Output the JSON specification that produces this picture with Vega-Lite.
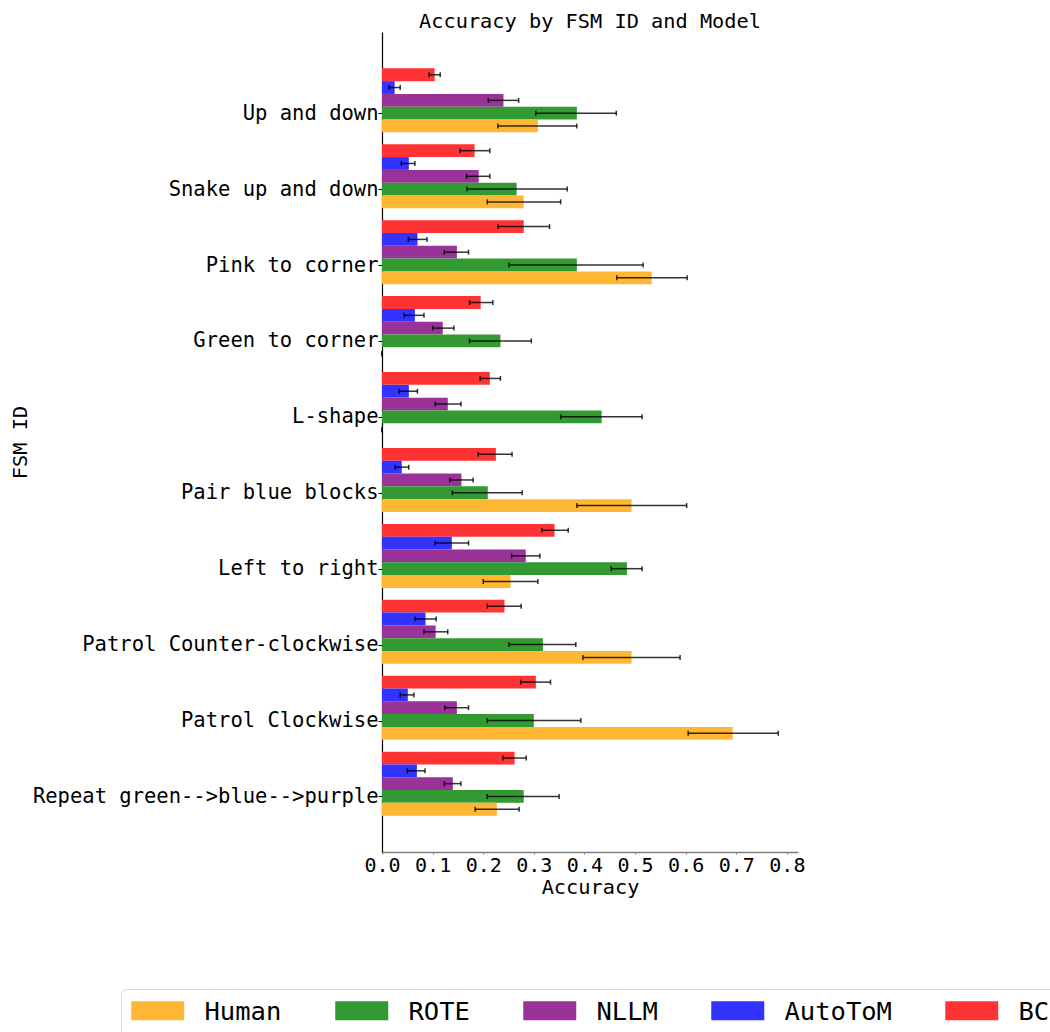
{
  "$schema": "https://vega.github.io/schema/vega-lite/v6.json",
  "autosize": {"type": "none"},
  "padding": {"left": 382, "top": 32, "right": 252, "bottom": 180},
  "width": 416,
  "height": 820,
  "title": {
    "text": "Accuracy by FSM ID and Model",
    "fontSize": 20.3,
    "fontWeight": "normal",
    "color": "#000000",
    "anchor": "middle",
    "offset": 0
  },
  "config": {
    "font": "DejaVu Sans Mono",
    "view": {"stroke": null},
    "axis": {"grid": false, "labelColor": "#000000", "titleColor": "#000000", "titleFontWeight": "normal"}
  },
  "data": {
    "values": [
      {"fsm": "Up and down", "model": "BC", "acc": 0.104, "lo": 0.093, "hi": 0.115},
      {"fsm": "Up and down", "model": "AutoToM", "acc": 0.025, "lo": 0.014, "hi": 0.036},
      {"fsm": "Up and down", "model": "NLLM", "acc": 0.240, "lo": 0.210, "hi": 0.270},
      {"fsm": "Up and down", "model": "ROTE", "acc": 0.385, "lo": 0.304, "hi": 0.463},
      {"fsm": "Up and down", "model": "Human", "acc": 0.308, "lo": 0.229, "hi": 0.385},

      {"fsm": "Snake up and down", "model": "BC", "acc": 0.183, "lo": 0.154, "hi": 0.213},
      {"fsm": "Snake up and down", "model": "AutoToM", "acc": 0.053, "lo": 0.038, "hi": 0.065},
      {"fsm": "Snake up and down", "model": "NLLM", "acc": 0.191, "lo": 0.167, "hi": 0.213},
      {"fsm": "Snake up and down", "model": "ROTE", "acc": 0.266, "lo": 0.168, "hi": 0.366},
      {"fsm": "Snake up and down", "model": "Human", "acc": 0.280, "lo": 0.208, "hi": 0.353},

      {"fsm": "Pink to corner", "model": "BC", "acc": 0.280, "lo": 0.229, "hi": 0.331},
      {"fsm": "Pink to corner", "model": "AutoToM", "acc": 0.070, "lo": 0.052, "hi": 0.089},
      {"fsm": "Pink to corner", "model": "NLLM", "acc": 0.148, "lo": 0.123, "hi": 0.171},
      {"fsm": "Pink to corner", "model": "ROTE", "acc": 0.385, "lo": 0.251, "hi": 0.516},
      {"fsm": "Pink to corner", "model": "Human", "acc": 0.533, "lo": 0.464, "hi": 0.603},

      {"fsm": "Green to corner", "model": "BC", "acc": 0.195, "lo": 0.173, "hi": 0.219},
      {"fsm": "Green to corner", "model": "AutoToM", "acc": 0.065, "lo": 0.044, "hi": 0.083},
      {"fsm": "Green to corner", "model": "NLLM", "acc": 0.120, "lo": 0.100, "hi": 0.142},
      {"fsm": "Green to corner", "model": "ROTE", "acc": 0.234, "lo": 0.173, "hi": 0.295},
      {"fsm": "Green to corner", "model": "Human", "acc": 0.0, "lo": 0.0, "hi": 0.0},

      {"fsm": "L-shape", "model": "BC", "acc": 0.213, "lo": 0.194, "hi": 0.234},
      {"fsm": "L-shape", "model": "AutoToM", "acc": 0.053, "lo": 0.034, "hi": 0.070},
      {"fsm": "L-shape", "model": "NLLM", "acc": 0.130, "lo": 0.105, "hi": 0.156},
      {"fsm": "L-shape", "model": "ROTE", "acc": 0.434, "lo": 0.353, "hi": 0.514},
      {"fsm": "L-shape", "model": "Human", "acc": 0.0, "lo": 0.0, "hi": 0.0},

      {"fsm": "Pair blue blocks", "model": "BC", "acc": 0.225, "lo": 0.190, "hi": 0.257},
      {"fsm": "Pair blue blocks", "model": "AutoToM", "acc": 0.039, "lo": 0.026, "hi": 0.053},
      {"fsm": "Pair blue blocks", "model": "NLLM", "acc": 0.157, "lo": 0.134, "hi": 0.180},
      {"fsm": "Pair blue blocks", "model": "ROTE", "acc": 0.209, "lo": 0.139, "hi": 0.277},
      {"fsm": "Pair blue blocks", "model": "Human", "acc": 0.493, "lo": 0.385, "hi": 0.602},

      {"fsm": "Left to right", "model": "BC", "acc": 0.341, "lo": 0.316, "hi": 0.368},
      {"fsm": "Left to right", "model": "AutoToM", "acc": 0.138, "lo": 0.105, "hi": 0.171},
      {"fsm": "Left to right", "model": "NLLM", "acc": 0.284, "lo": 0.256, "hi": 0.312},
      {"fsm": "Left to right", "model": "ROTE", "acc": 0.484, "lo": 0.453, "hi": 0.514},
      {"fsm": "Left to right", "model": "Human", "acc": 0.254, "lo": 0.200, "hi": 0.308},

      {"fsm": "Patrol Counter-clockwise", "model": "BC", "acc": 0.242, "lo": 0.208, "hi": 0.275},
      {"fsm": "Patrol Counter-clockwise", "model": "AutoToM", "acc": 0.086, "lo": 0.065, "hi": 0.107},
      {"fsm": "Patrol Counter-clockwise", "model": "NLLM", "acc": 0.106, "lo": 0.083, "hi": 0.130},
      {"fsm": "Patrol Counter-clockwise", "model": "ROTE", "acc": 0.318, "lo": 0.251, "hi": 0.383},
      {"fsm": "Patrol Counter-clockwise", "model": "Human", "acc": 0.493, "lo": 0.397, "hi": 0.589},

      {"fsm": "Patrol Clockwise", "model": "BC", "acc": 0.304, "lo": 0.274, "hi": 0.333},
      {"fsm": "Patrol Clockwise", "model": "AutoToM", "acc": 0.051, "lo": 0.036, "hi": 0.063},
      {"fsm": "Patrol Clockwise", "model": "NLLM", "acc": 0.148, "lo": 0.124, "hi": 0.171},
      {"fsm": "Patrol Clockwise", "model": "ROTE", "acc": 0.300, "lo": 0.208, "hi": 0.393},
      {"fsm": "Patrol Clockwise", "model": "Human", "acc": 0.693, "lo": 0.605, "hi": 0.783},

      {"fsm": "Repeat green-->blue-->purple", "model": "BC", "acc": 0.262, "lo": 0.239, "hi": 0.285},
      {"fsm": "Repeat green-->blue-->purple", "model": "AutoToM", "acc": 0.069, "lo": 0.050, "hi": 0.085},
      {"fsm": "Repeat green-->blue-->purple", "model": "NLLM", "acc": 0.140, "lo": 0.123, "hi": 0.156},
      {"fsm": "Repeat green-->blue-->purple", "model": "ROTE", "acc": 0.280, "lo": 0.208, "hi": 0.350},
      {"fsm": "Repeat green-->blue-->purple", "model": "Human", "acc": 0.227, "lo": 0.184, "hi": 0.271}
    ]
  },
  "encoding": {
    "y": {
      "field": "fsm",
      "type": "nominal",
      "sort": ["Up and down", "Snake up and down", "Pink to corner", "Green to corner", "L-shape", "Pair blue blocks", "Left to right", "Patrol Counter-clockwise", "Patrol Clockwise", "Repeat green-->blue-->purple"],
      "scale": {"paddingInner": 0.157, "paddingOuter": 0.479},
      "axis": {
        "title": "FSM ID",
        "titleFontSize": 20.3,
        "titleX": -362,
        "titleBaseline": "middle",
        "titleAngle": -90,
        "labelFontSize": 20.5,
        "labelPadding": 0,
        "labelLimit": 0,
        "tickSize": 4,
        "tickColor": "#000000",
        "tickOffset": 12.8,
        "domainColor": "#000000",
        "domainWidth": 1.2
      }
    },
    "yOffset": {
      "field": "model",
      "type": "nominal",
      "sort": ["BC", "AutoToM", "NLLM", "ROTE", "Human"],
      "scale": {"paddingInner": 0, "paddingOuter": 0}
    }
  },
  "layer": [
    {
      "mark": {"type": "bar"},
      "encoding": {
        "x": {
          "field": "acc",
          "type": "quantitative",
          "scale": {"domain": [0, 0.822], "nice": false},
          "axis": {
            "title": "Accuracy",
            "titleFontSize": 20.3,
            "titlePadding": 2,
            "labelFontSize": 20,
            "labelPadding": 1.5,
            "tickSize": 2,
            "tickColor": "#808080",
            "domainColor": "#808080",
            "domainWidth": 1.4,
            "values": [0, 0.1, 0.2, 0.3, 0.4, 0.5, 0.6, 0.7, 0.8],
            "format": ".1f",
            "labelFlush": false
          }
        },
        "color": {
          "field": "model",
          "type": "nominal",
          "scale": {
            "domain": ["Human", "ROTE", "NLLM", "AutoToM", "BC"],
            "range": ["#ffb733", "#339933", "#993399", "#3333ff", "#ff3333"]
          },
          "legend": {
            "title": null,
            "orient": "none",
            "legendX": -261,
            "legendY": 957,
            "direction": "horizontal",
            "columns": 5,
            "columnPadding": 53,
            "padding": 10,
            "symbolType": "M-2.5,-2.2H8.1V1.6H-2.5Z",
            "symbolSize": 100,
            "symbolStrokeWidth": 0,
            "symbolOpacity": 1,
            "labelFontSize": 25.5,
            "labelOffset": 48,
            "labelColor": "#000000",
            "strokeColor": "#d9d9d9",
            "fillColor": "#ffffff",
            "cornerRadius": 5
          }
        }
      }
    },
    {
      "mark": {"type": "rule", "color": "#000000", "strokeWidth": 1.5, "opacity": 0.8},
      "encoding": {
        "x": {"field": "lo", "type": "quantitative"},
        "x2": {"field": "hi"}
      }
    },
    {
      "mark": {"type": "tick", "color": "#000000", "thickness": 1.5, "size": 5, "opacity": 0.8},
      "encoding": {
        "x": {"field": "lo", "type": "quantitative"}
      }
    },
    {
      "mark": {"type": "tick", "color": "#000000", "thickness": 1.5, "size": 5, "opacity": 0.8},
      "encoding": {
        "x": {"field": "hi", "type": "quantitative"}
      }
    }
  ]
}
